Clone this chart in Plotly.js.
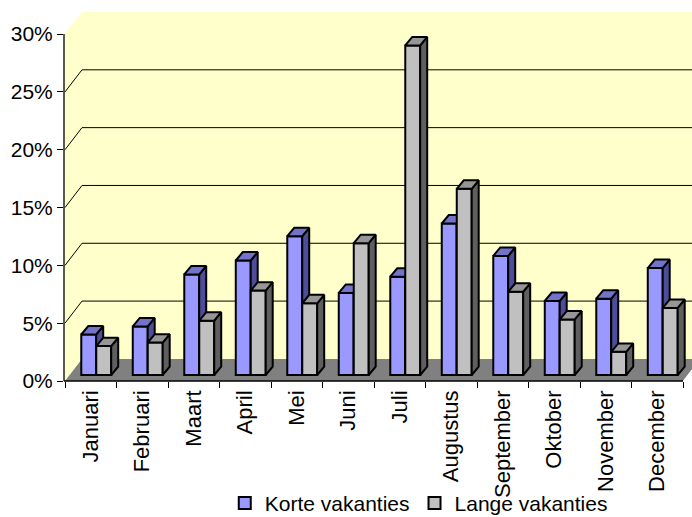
<!DOCTYPE html>
<html>
<head>
<meta charset="utf-8">
<script src="https://cdn.plot.ly/plotly-3.0.1.min.js"></script>
<style>
  html, body { margin: 0; padding: 0; background: #fff; }
  #chart { width: 692px; height: 517px; }
</style>
</head>
<body>
<div id="chart"></div>
<script>
// ---- data ----
const months = ['Januari', 'Februari', 'Maart', 'April', 'Mei', 'Juni', 'Juli',
                'Augustus', 'September', 'Oktober', 'November', 'December'];
const korteVakanties = [3.5, 4.2, 8.7, 9.9, 12.0, 7.1, 8.5, 13.1, 10.3, 6.4, 6.6, 9.25];
const langeVakanties = [2.5, 2.8, 4.7, 7.3, 6.2, 11.4, 28.5, 16.1, 7.2, 4.8, 2.0, 5.8];
const seriesNames = ['Korte vakanties', 'Lange vakanties'];
const yTickValues = [0, 5, 10, 15, 20, 25, 30];

// ---- pseudo-3D geometry (axis units) ----
const PX_X = 51.5;                 // px per category
const X0 = -0.5 - 1 / PX_X;        // left edge of plot area
const X1 = X0 + 628 / PX_X;        // right edge of plot area
const WALL_DX = 17 / PX_X;         // depth of walls/floor (x)
const WALL_DY = 1.91;              // depth of walls/floor (y, in %)
const Y1 = 30 + WALL_DY;
const BASE = 0.52;                 // bar plane offset above the front floor edge
const BAR_W = 0.29;
const OFF_A = -0.184, OFF_B = 0.107;
const BAR_DX = 7 / PX_X, BAR_DY = 0.73;

const blue = '#9999FF', blueTop = '#7373CC', blueSide = '#4D4D99';
const grey = '#C0C0C0', greyTop = '#969696', greySide = '#5F5F5F';
const FONT = 'Arial, "Liberation Sans", sans-serif';

function faces(vals, off) {
  const side = {x: [], y: []}, top = {x: [], y: []};
  vals.forEach((v, i) => {
    const L = i + off, R = L + BAR_W, B = BASE, T = BASE + v;
    side.x.push(R, R + BAR_DX, R + BAR_DX, R, R, null);
    side.y.push(B, B + BAR_DY, T + BAR_DY, T, B, null);
    top.x.push(L, R, R + BAR_DX, L + BAR_DX, L, null);
    top.y.push(T, T, T + BAR_DY, T + BAR_DY, T, null);
  });
  return {side, top};
}
const fa = faces(korteVakanties, OFF_A);
const fb = faces(langeVakanties, OFF_B);
const idx = months.map((_, i) => i);

function faceTrace(pts, color, xa) {
  return {type: 'scatter', mode: 'lines', x: pts.x, y: pts.y, xaxis: xa, yaxis: 'y',
          fill: 'toself', fillcolor: color, line: {color: '#000', width: 2},
          connectgaps: false, showlegend: false, hoverinfo: 'skip'};
}

const traces = [
  {type: 'bar', name: seriesNames[0], x: months, y: korteVakanties, base: BASE,
   width: BAR_W, offset: OFF_A, xaxis: 'x', yaxis: 'y',
   marker: {color: blue, line: {color: '#000', width: 2}}},
  faceTrace(fa.side, blueSide, 'x2'),
  faceTrace(fa.top, blueTop, 'x2'),
  {type: 'bar', name: seriesNames[1], x: idx, y: langeVakanties, base: BASE,
   width: BAR_W, offset: OFF_B, xaxis: 'x3', yaxis: 'y',
   marker: {color: grey, line: {color: '#000', width: 2}}},
  faceTrace(fb.side, greySide, 'x4'),
  faceTrace(fb.top, greyTop, 'x4')
];

// walls, floor, gridlines
const shapes = [];
shapes.push({type: 'path', xref: 'x', yref: 'y', layer: 'below', line: {width: 0},
  fillcolor: '#808080',
  path: `M${-0.5},0 L11.5,0 L${11.5 + WALL_DX},${WALL_DY} L${-0.5 + WALL_DX},${WALL_DY} Z`});
shapes.push({type: 'path', xref: 'x', yref: 'y', layer: 'below', line: {width: 0},
  fillcolor: '#FFFFFF',
  path: `M${X0},30 L${-0.5 + WALL_DX},${Y1} L${X0},${Y1 + 1} Z`});
shapes.push({type: 'path', xref: 'x', yref: 'y', layer: 'below', line: {width: 0},
  fillcolor: '#FFFFFF',
  path: `M11.5,0 L${11.5 + WALL_DX},${WALL_DY} L${X1 + 1},${WALL_DY} L${X1 + 1},-1 L11.5,-1 Z`});
yTickValues.filter(v => v > 0 && v < 30).forEach(v => {
  shapes.push({type: 'line', xref: 'x', yref: 'y', layer: 'below',
    x0: -0.5, y0: v, x1: -0.5 + WALL_DX, y1: v + WALL_DY, line: {color: '#000', width: 1}});
  shapes.push({type: 'line', xref: 'x', yref: 'y', layer: 'below',
    x0: -0.5 + WALL_DX, y0: v + WALL_DY, x1: X1 + 1, y1: v + WALL_DY, line: {color: '#000', width: 1}});
});
// front axis lines
shapes.push({type: 'line', xref: 'paper', yref: 'y', x0: 0, x1: 0, y0: 0, y1: 30,
  line: {color: '#000', width: 1.3}});
shapes.push({type: 'line', xref: 'paper', yref: 'paper', x0: 0, x1: (11.5 - X0) / (X1 - X0),
  y0: 0, y1: 0, line: {color: '#000', width: 1.3}});

const hidden = {overlaying: 'x', anchor: 'y', type: 'linear', range: [X0, X1], visible: false, fixedrange: true};

const layout = {
  width: 692, height: 517,
  margin: {l: 64, r: 0, t: 12, b: 136, pad: 0, autoexpand: false},
  paper_bgcolor: '#FFFFFF',
  plot_bgcolor: '#FFFFCC',
  font: {family: FONT, size: 21, color: '#000'},
  showlegend: true,
  legend: {orientation: 'h', x: 0.256, xanchor: 'left', y: -0.276, yanchor: 'top',
           bgcolor: 'rgba(0,0,0,0)', font: {family: FONT, size: 21, color: '#000'},
           itemclick: false, itemdoubleclick: false},
  xaxis: {type: 'category', categoryorder: 'array', categoryarray: months,
          range: [X0, X1], tickson: 'boundaries', ticks: 'outside', ticklen: 6,
          tickcolor: '#000', tickwidth: 1, showgrid: false, zeroline: false, showline: false,
          ticklabelstandoff: 4,
          tickangle: -90, tickfont: {family: FONT, size: 22, color: '#000'}, fixedrange: true},
  xaxis2: Object.assign({}, hidden),
  xaxis3: Object.assign({}, hidden),
  xaxis4: Object.assign({}, hidden),
  yaxis: {range: [0, Y1], tickmode: 'array', tickvals: yTickValues,
          ticktext: yTickValues.map(v => v + '%'), ticks: 'outside', ticklen: 6,
          tickcolor: '#000', tickwidth: 1, showgrid: false, zeroline: false, showline: false,
          tickfont: {family: FONT, size: 21, color: '#000'}, fixedrange: true},
  barmode: 'overlay',
  shapes: shapes
};

Plotly.newPlot('chart', traces, layout, {displayModeBar: false, staticPlot: true});
</script>
</body>
</html>
